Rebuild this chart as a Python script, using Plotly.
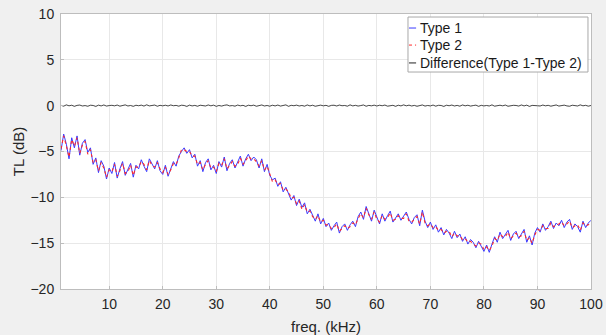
import plotly.graph_objects as go

# frequency grid (kHz): 1.0 to 100.0 in 0.5 kHz steps
freq_start = 1.0
freq_step = 0.5
n_points = 199
freq = [freq_start + i * freq_step for i in range(n_points)]

type1 = [
    -4.9, -3.1, -4.2, -5.8, -3.5, -4.6, -3.3, -5.4, -4.1, -3.7,
    -5.1, -4.6, -6.4, -5.7, -7.3, -6.0, -6.6, -8.0, -6.8, -7.4,
    -6.2, -7.9, -6.9, -6.1, -7.6, -7.0, -6.3, -7.8, -6.5, -6.9,
    -5.9, -6.6, -7.2, -5.8, -6.3, -6.9, -6.0, -7.1, -7.5, -6.5,
    -7.7, -6.8, -6.1, -6.6, -5.5, -5.0, -4.6, -5.2, -4.8, -5.7,
    -5.3, -6.6, -6.0, -7.2, -6.2, -5.8, -7.0, -6.5, -7.4, -6.1,
    -6.7, -5.6, -7.1, -6.3, -5.9, -6.8, -6.2, -5.5, -6.6, -5.8,
    -5.3, -6.0, -5.6, -5.9, -6.8, -5.8, -7.2, -6.4, -7.6, -8.1,
    -7.9, -8.8, -8.3, -9.4, -8.9, -9.6, -10.3, -9.8, -10.9, -10.2,
    -11.1, -10.6, -11.8, -11.3, -11.9, -12.6, -11.8, -12.9, -12.3, -13.2,
    -12.8, -13.6, -13.1, -12.7, -13.9, -13.2, -12.9, -13.6, -13.0, -12.6,
    -13.2, -12.1, -11.6, -12.4, -11.0, -11.7, -12.6, -11.4, -12.2, -12.9,
    -11.8, -12.6, -12.0, -11.5, -12.7, -12.2, -11.8, -12.5, -12.1, -11.6,
    -12.4, -12.9, -12.2, -11.9, -13.1, -11.4, -12.6, -13.3, -12.7, -13.5,
    -13.0, -13.8, -13.3, -14.1, -13.5, -13.9, -14.5, -13.7, -14.4, -14.0,
    -14.8, -14.3, -15.1, -14.6, -14.9, -15.5, -14.8, -15.3, -15.9, -15.2,
    -16.0, -15.1, -14.3, -14.9, -13.8, -14.5, -14.1, -13.6, -14.7, -14.0,
    -13.7, -14.5, -14.0, -13.5, -14.9, -14.2, -15.2, -13.9, -13.3, -13.8,
    -12.9, -13.6, -13.2, -12.6, -13.4, -12.8, -13.1, -12.5, -13.3, -12.7,
    -12.4, -13.5, -12.9, -13.2, -13.8, -12.6, -13.3, -12.8, -12.5,
]

type2 = [
    -4.7, -3.3, -4.4, -5.6, -3.7, -4.4, -3.5, -5.2, -4.3, -3.9,
    -5.3, -4.8, -6.2, -5.9, -7.1, -6.2, -6.8, -7.8, -7.0, -7.2,
    -6.4, -7.7, -7.1, -6.3, -7.4, -7.2, -6.5, -7.6, -6.7, -6.7,
    -6.1, -6.4, -7.0, -6.0, -6.5, -6.7, -6.2, -6.9, -7.3, -6.7,
    -7.5, -7.0, -6.3, -6.4, -5.7, -4.8, -4.8, -5.0, -5.0, -5.5,
    -5.5, -6.4, -6.2, -7.0, -6.4, -6.0, -6.8, -6.7, -7.2, -6.3,
    -6.5, -5.8, -6.9, -6.5, -6.1, -6.6, -6.4, -5.7, -6.4, -6.0,
    -5.5, -5.8, -5.8, -6.1, -6.6, -6.0, -7.0, -6.6, -7.4, -8.3,
    -8.1, -8.6, -8.5, -9.2, -9.1, -9.4, -10.1, -10.0, -10.7, -10.4,
    -11.3, -10.8, -11.6, -11.5, -12.1, -12.4, -12.0, -12.7, -12.5, -13.0,
    -13.0, -13.4, -13.3, -12.9, -13.7, -13.4, -13.1, -13.4, -13.2, -12.8,
    -13.0, -12.3, -11.8, -12.2, -11.2, -11.9, -12.4, -11.6, -12.4, -12.7,
    -12.0, -12.4, -12.2, -11.7, -12.5, -12.4, -12.0, -12.3, -12.3, -11.8,
    -12.6, -12.7, -12.4, -12.1, -12.9, -11.6, -12.8, -13.1, -12.9, -13.3,
    -13.2, -13.6, -13.5, -13.9, -13.7, -13.7, -14.3, -13.9, -14.2, -14.2,
    -14.6, -14.5, -14.9, -14.8, -15.1, -15.3, -15.0, -15.1, -15.7, -15.4,
    -15.8, -15.3, -14.5, -14.7, -14.0, -14.3, -14.3, -13.8, -14.5, -14.2,
    -13.9, -14.3, -14.2, -13.7, -14.7, -14.4, -15.0, -14.1, -13.5, -13.6,
    -13.1, -13.4, -13.4, -12.8, -13.2, -13.0, -12.9, -12.7, -13.1, -12.9,
    -12.6, -13.3, -13.1, -13.0, -13.6, -12.8, -13.1, -13.0, -12.7,
]

difference = [
    0.04, -0.06, 0.09, -0.02, 0.05, -0.08, 0.03, 0.07, -0.04, 0.01,
    -0.07, 0.05, 0.02, -0.09, 0.06, -0.03, 0.08, -0.05, 0.01, 0.04,
    -0.02, 0.07, -0.06, 0.03, 0.09, -0.04, 0.02, -0.08, 0.05, -0.01,
    0.06, -0.05, 0.10, -0.03, 0.02, 0.07, -0.07, 0.04, -0.02, 0.05,
    -0.04, 0.08, -0.01, 0.03, -0.06, 0.05, 0.02, -0.09, 0.06, -0.03,
    0.03, -0.07, 0.05, 0.01, -0.04, 0.08, -0.02, 0.06, -0.08, 0.02,
    -0.05, 0.04, 0.09, -0.03, 0.01, -0.06, 0.07, -0.02, 0.04, -0.09,
    0.05, -0.01, 0.06, -0.07, 0.03, 0.08, -0.04, 0.02, -0.06, 0.05,
    -0.03, 0.07, -0.05, 0.02, 0.09, -0.08, 0.04, -0.01, 0.06, -0.04,
    0.02, -0.06, 0.08, -0.03, 0.05, -0.07, 0.01, 0.06, -0.02, 0.04,
    -0.08, 0.03, 0.05, -0.04, 0.07, -0.01, 0.02, -0.06, 0.09, -0.03,
    0.04, -0.05, 0.01, 0.08, -0.07, 0.03, -0.02, 0.06, -0.04, 0.05,
    -0.01, 0.07, -0.06, 0.02, 0.04, -0.08, 0.05, -0.03, 0.09, -0.02,
    0.06, -0.04, 0.03, -0.07, 0.01, 0.08, -0.05, 0.02, -0.03, 0.07,
    -0.06, 0.04, 0.02, -0.09, 0.05, -0.01, 0.07, -0.04, 0.03, -0.06,
    0.08, -0.02, 0.05, -0.05, 0.01, 0.06, -0.08, 0.04, -0.03, 0.02,
    -0.04, 0.09, -0.06, 0.03, 0.05, -0.02, 0.07, -0.07, 0.01, 0.04,
    0.02, -0.05, 0.08, -0.03, 0.06, -0.09, 0.03, 0.05, -0.01, -0.04,
    0.07, -0.02, 0.04, -0.06, 0.02, 0.08, -0.05, 0.01, 0.06, -0.03,
    -0.07, 0.05, 0.03, -0.04, 0.09, -0.02, 0.04, -0.06, 0.02,
]

x_ticks = [10, 20, 30, 40, 50, 60, 70, 80, 90, 100]
y_ticks = [-20, -15, -10, -5, 0, 5, 10]

series_names = ["Type 1", "Type 2", "Difference(Type 1-Type 2)"]
series_colors = ["#3a3aff", "#ff2a2a", "#222222"]
series_dash = ["solid", "dot", "solid"]
series_width = [1.0, 1.1, 0.8]
series_values = [type1, type2, difference]

font_family = "Liberation Sans, Arial, sans-serif"
text_color = "#262626"

fig = go.Figure()
for name, vals, color, dash, w in zip(series_names, series_values, series_colors, series_dash, series_width):
    fig.add_trace(go.Scatter(
        x=freq, y=vals, mode="lines", name=name,
        line=dict(color=color, width=w, dash=dash),
    ))

axis_common = dict(
    showline=True, linecolor="#bdbdbd", linewidth=1, mirror=True,
    showgrid=True, gridcolor="#e8e8e8", gridwidth=1,
    zeroline=False, ticks="inside", ticklen=3, tickcolor="#bdbdbd",
    tickfont=dict(family=font_family, size=14, color=text_color),
    automargin=False,
)

fig.update_xaxes(
    range=[1, 100], tickvals=x_ticks, ticklabelstandoff=2,
    title=dict(text="freq. (kHz)", font=dict(family=font_family, size=15, color=text_color), standoff=12),
    **axis_common,
)
fig.update_yaxes(
    range=[-20, 10], tickvals=y_ticks, ticklabelstandoff=3,
    title=dict(text="TL (dB)", font=dict(family=font_family, size=15, color=text_color), standoff=2),
    **axis_common,
)

# compact MATLAB-style legend box drawn in plot-area (paper) coordinates
legend_box = dict(x0=0.6547, x1=0.9943, y0=0.789, y1=0.989)
legend_rows_y = [0.949, 0.887, 0.822]
legend_line_x = (0.6566, 0.6700)
legend_text_x = 0.6736

shapes = [dict(type="rect", xref="paper", yref="paper", **legend_box,
               fillcolor="#ffffff", line=dict(color="#a8a8a8", width=1), layer="above")]
annotations = []
for name, color, dash, ry in zip(series_names, series_colors, series_dash, legend_rows_y):
    shapes.append(dict(type="line", xref="paper", yref="paper",
                       x0=legend_line_x[0], x1=legend_line_x[1], y0=ry, y1=ry,
                       line=dict(color=color, width=1, dash=dash), layer="above"))
    annotations.append(dict(xref="paper", yref="paper", x=legend_text_x, y=ry,
                            xanchor="left", yanchor="middle", text=name, showarrow=False,
                            font=dict(family=font_family, size=14, color="#1a1a1a")))

fig.update_layout(
    width=606, height=335,
    margin=dict(l=61, r=15, t=14, b=46),
    paper_bgcolor="#f0f0f0", plot_bgcolor="#ffffff",
    showlegend=False,
    shapes=shapes, annotations=annotations,
)

fig.write_html("out.html")
